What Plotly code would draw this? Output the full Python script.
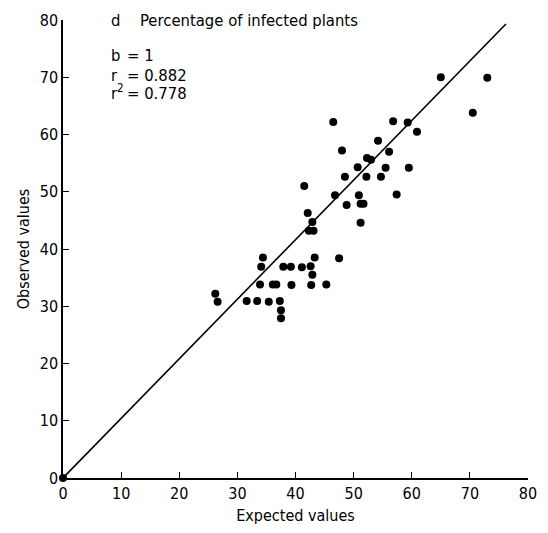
import plotly.graph_objects as go

# Data
expected = [46.5, 48.0, 48.5, 41.5, 46.8, 48.8, 42.1,
            65.0, 73.0, 70.5, 56.8, 59.3, 60.9, 54.2, 56.1, 52.3, 53.0, 50.7, 55.5, 59.5,
            52.2, 54.7, 50.9, 57.4, 51.2, 51.7, 51.2,
            42.9, 42.3, 43.1, 34.4, 43.3, 47.5, 34.1, 37.9, 39.2, 41.1, 42.6, 42.9,
            33.9, 36.1, 36.7, 39.3, 42.7, 45.3, 26.2, 26.6, 31.6, 33.4, 35.4, 37.3, 37.5, 37.5]
observed = [62.2, 57.2, 52.6, 51.0, 49.4, 47.7, 46.3,
            70.0, 69.9, 63.8, 62.3, 62.1, 60.5, 58.9, 57.0, 55.9, 55.6, 54.3, 54.2, 54.2,
            52.6, 52.6, 49.4, 49.5, 47.9, 47.9, 44.6,
            44.7, 43.2, 43.2, 38.5, 38.5, 38.4, 36.9, 36.9, 36.9, 36.8, 37.0, 35.5,
            33.8, 33.8, 33.8, 33.7, 33.7, 33.8, 32.2, 30.8, 30.9, 30.9, 30.8, 30.9, 29.3, 27.9]
origin_x = [0]
origin_y = [0]
line_x = [0, 76.2]
line_y = [0, 79.3]
tick_vals = [0, 10, 20, 30, 40, 50, 60, 70, 80]
tick_text = ["0", "10", "20", "30", "40", "50", "60", "70", "80"]

FONT = "DejaVu Sans Condensed"

fig = go.Figure()
fig.add_trace(go.Scatter(x=line_x, y=line_y, mode="lines",
                         line=dict(color="black", width=1.6), hoverinfo="skip"))
fig.add_trace(go.Scatter(x=expected, y=observed, mode="markers",
                         marker=dict(color="black", size=8)))
fig.add_trace(go.Scatter(x=origin_x, y=origin_y, mode="markers",
                         marker=dict(color="black", size=8), cliponaxis=False))

axis_common = dict(range=[0, 80], tickvals=tick_vals, ticktext=tick_text,
                   showline=True, linecolor="black", linewidth=1.5,
                   ticks="inside", ticklen=6, tickcolor="black", tickwidth=1.3,
                   showgrid=False, zeroline=False,
                   tickfont=dict(family=FONT, size=16, color="black"))

fig.update_layout(
    width=548, height=533,
    margin=dict(l=63, r=11, t=14, b=51),
    paper_bgcolor="white", plot_bgcolor="white",
    showlegend=False,
    font=dict(family=FONT, size=16, color="black"),
    xaxis=dict(**axis_common,
               title=dict(text="Expected values", standoff=8,
                          font=dict(family=FONT, size=16, color="black"))),
    yaxis=dict(**axis_common,
               title=dict(text="Observed values", standoff=6,
                          font=dict(family=FONT, size=16, color="black"))),
)

def ann(text, px, py):
    fig.add_annotation(text=text, xref="paper", yref="paper",
                       x=(px - 63) / 474, y=(482 - py) / 468,
                       xanchor="left", yanchor="middle", showarrow=False,
                       font=dict(family=FONT, size=16.5, color="black"))

ann("d", 110, 15)
ann("Percentage of infected plants", 139, 15)
ann("b", 110, 50)
ann("= 1", 126, 50)
ann("r", 110, 71)
ann("= 0.882", 126, 71)
ann("r<sup>2</sup>", 110, 88)
ann("= 0.778", 126, 89)

fig.write_html("out.html")
